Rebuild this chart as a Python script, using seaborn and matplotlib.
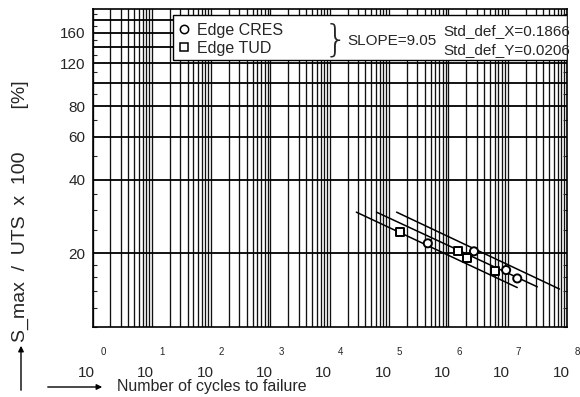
import numpy as np
import pandas as pd
import matplotlib
matplotlib.use("Agg")
import matplotlib.pyplot as plt
import matplotlib.transforms as mtransforms
from matplotlib.lines import Line2D
from matplotlib.patches import Rectangle, FancyArrowPatch
from matplotlib.ticker import FixedLocator, FixedFormatter, NullFormatter
import seaborn as sns

# ---- data ----
cres_cycles = [4.5e5, 2.7e6, 9.4e6, 1.45e7]
cres_stress = [22.0, 20.4, 17.1, 15.8]
tud_cycles = [1.51e5, 1.45e6, 2.06e6, 6.1e6]
tud_stress = [24.4, 20.4, 19.1, 17.0]

band_lower_cycles = [2.81e4, 1.45e7]
band_lower_stress = [29.5, 14.5]
band_mid_cycles = [6.14e4, 3.16e7]
band_mid_stress = [29.5, 14.6]
band_upper_cycles = [1.34e5, 7.46e7]
band_upper_stress = [29.5, 14.3]

x_decades = [0, 1, 2, 3, 4, 5, 6, 7, 8]
y_grid_values = [20, 40, 60, 80, 100, 120, 140, 160, 180]
y_tick_labels = ["20", "40", "60", "80", "", "120", "", "160", ""]
series_labels = ["Edge CRES", "Edge TUD"]
slope_text = "SLOPE=9.05"
std_x_text = "Std_def_X=0.1866"
std_y_text = "Std_def_Y=0.0206"
x_title = "Number of cycles to failure"
y_title = "S_max  /  UTS  x  100        [%]"

# ---- style ----
sns.set_theme(style="white")
plt.rcParams["font.family"] = ["Liberation Sans", "DejaVu Sans"]
plt.rcParams["axes.linewidth"] = 1.2

fig = plt.figure(figsize=(5.8, 3.97), dpi=100)
W, H = 580, 397
ax_l, ax_r, ax_t, ax_b = 92.5, 567, 9, 327
ax = fig.add_axes([ax_l / W, 1 - ax_b / H, (ax_r - ax_l) / W, (ax_b - ax_t) / H])

pts = pd.DataFrame({
    "cycles": cres_cycles + tud_cycles,
    "stress": cres_stress + tud_stress,
    "series": [series_labels[0]] * len(cres_cycles) + [series_labels[1]] * len(tud_cycles),
})
bands = pd.DataFrame({
    "cycles": band_lower_cycles + band_mid_cycles + band_upper_cycles,
    "stress": band_lower_stress + band_mid_stress + band_upper_stress,
    "band": ["lower"] * 2 + ["mid"] * 2 + ["upper"] * 2,
})

sns.lineplot(data=bands, x="cycles", y="stress", hue="band",
             palette=["black"] * 3, estimator=None, sort=False,
             linewidth=1.1, legend=False, ax=ax, zorder=3)
sns.scatterplot(data=pts, x="cycles", y="stress", style="series",
                markers={series_labels[0]: "o", series_labels[1]: "s"},
                s=34, facecolor="white", edgecolor="black", linewidth=1.4,
                legend=False, ax=ax, zorder=4)

ax.set_xscale("log")
ax.set_yscale("log")
ax.set_xlim(10 ** x_decades[0], 10 ** x_decades[-1])
ax.set_ylim(10, 200)

# x grid: decades + 2..9 subdivisions
ax.xaxis.set_major_locator(FixedLocator([10.0 ** d for d in x_decades]))
ax.xaxis.set_minor_locator(FixedLocator(
    [m * 10.0 ** d for d in x_decades[:-1] for m in range(2, 10)]))
ax.xaxis.set_major_formatter(FixedFormatter(["10"] * len(x_decades)))
ax.xaxis.set_minor_formatter(NullFormatter())
ax.grid(True, axis="x", which="both", color="#111111", linewidth=0.95)

# y grid
ax.yaxis.set_major_locator(FixedLocator(y_grid_values))
ax.yaxis.set_major_formatter(FixedFormatter(y_tick_labels))
ax.yaxis.set_minor_locator(FixedLocator(
    [10, 12, 14, 16, 18, 25, 30, 35, 50, 70, 90, 110, 130, 150, 170, 190]))
ax.yaxis.set_minor_formatter(NullFormatter())
ax.grid(True, axis="y", which="major", color="black", linewidth=1.3)

ax.tick_params(axis="x", which="both", length=0, pad=28, labelsize=11)
ax.tick_params(axis="y", which="major", length=0, pad=5, labelsize=11)
ax.tick_params(axis="y", which="minor", length=3, direction="in",
               left=True, right=True, width=0.8)
for spine in ax.spines.values():
    spine.set_color("black")
    spine.set_visible(True)
ax.set_xlabel("")
ax.set_ylabel("")

# shift "10" bases left and add exponents
offset = mtransforms.ScaledTranslation(-6 / 100, 0, fig.dpi_scale_trans)
for lab in ax.get_xticklabels():
    lab.set_transform(lab.get_transform() + offset)
blend = mtransforms.blended_transform_factory(ax.transData, ax.transAxes)
for d in x_decades:
    ax.text(10.0 ** d, -(352 - ax_b) / (ax_b - ax_t), str(d), transform=blend
            + mtransforms.ScaledTranslation(10.5 / 100, 0, fig.dpi_scale_trans),
            ha="center", va="center", fontsize=7, clip_on=False)

# legend box
def fx(px):
    return (px - ax_l) / (ax_r - ax_l)

def fy(py):
    return (ax_b - py) / (ax_b - ax_t)

ax.add_patch(Rectangle((fx(173), fy(60)), fx(567) - fx(173), fy(15) - fy(60),
                       transform=ax.transAxes, facecolor="white",
                       edgecolor="black", linewidth=1.0, zorder=5))
handles = [Line2D([], [], marker="o", linestyle="none", markersize=6,
                  markerfacecolor="white", markeredgecolor="black", markeredgewidth=1.1),
           Line2D([], [], marker="s", linestyle="none", markersize=6,
                  markerfacecolor="white", markeredgecolor="black", markeredgewidth=1.1)]
leg = ax.legend(handles, series_labels, loc="upper left",
                bbox_to_anchor=(fx(176), fy(21)), frameon=False, fontsize=11.5,
                handlelength=0.8, handletextpad=0.4, labelspacing=0.2,
                borderaxespad=0, borderpad=0.1)
leg.set_zorder(6)
ax.text(fx(336), fy(40), "}", transform=ax.transAxes, ha="center", va="center",
        fontsize=27, family="DejaVu Sans", fontweight="ultralight", zorder=6)
ax.text(fx(347), fy(41), slope_text, transform=ax.transAxes, ha="left",
        va="center", fontsize=11, zorder=6)
ax.text(fx(443), fy(31), std_x_text, transform=ax.transAxes, ha="left",
        va="center", fontsize=11, zorder=6)
ax.text(fx(443), fy(50), std_y_text, transform=ax.transAxes, ha="left",
        va="center", fontsize=11, zorder=6)

# axis titles with arrows
fig.text(117 / W, 1 - 387 / H, x_title, ha="left", va="center", fontsize=11.5)
fig.add_artist(FancyArrowPatch(
    (45 / W, 1 - 387 / H), (105 / W, 1 - 387 / H), transform=fig.transFigure,
    arrowstyle="-|>", mutation_scale=8, color="black", linewidth=1.0))
fig.text(20 / W, 1 - 342 / H, y_title, ha="center", va="bottom", rotation=90,
         fontsize=14)
fig.add_artist(FancyArrowPatch(
    (21 / W, 1 - 393 / H), (21 / W, 1 - 343 / H), transform=fig.transFigure,
    arrowstyle="-|>", mutation_scale=8, color="black", linewidth=1.0))

fig.savefig("out.png", dpi=100)
